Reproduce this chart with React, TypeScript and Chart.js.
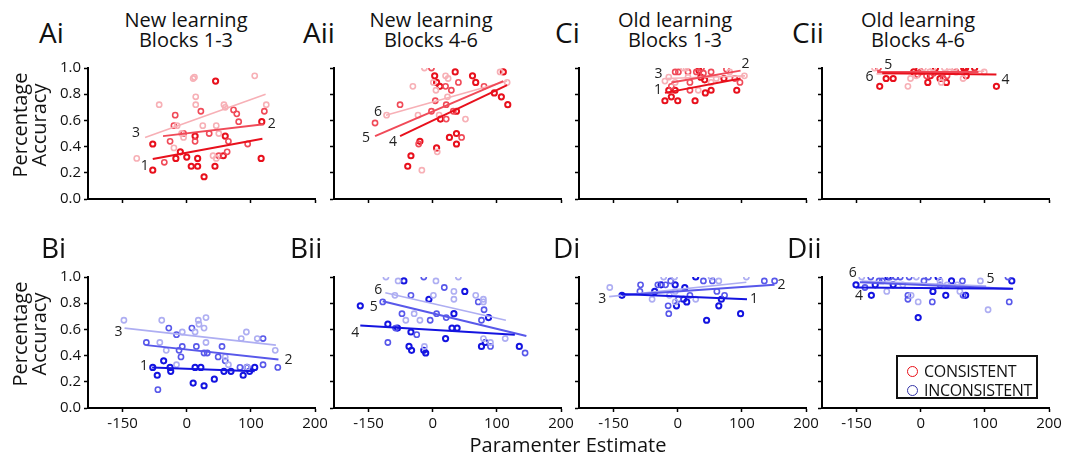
import React, { useEffect, useRef } from 'react';
import { Chart, registerables } from 'chart.js';
Chart.register(...registerables);

const FONT = '"Open Sans", "Noto Sans", sans-serif';

const xTickValues = [-100, 0, 100, 200];
const xTickLabels = ['-150', '0', '100', '200'];
const yTickValues = [0, 0.2, 0.4, 0.6, 0.8, 1.0];
const xMin = -154;
const xMax = 200;

type Pt = [number, number];

// ---------- Ai : New learning, blocks 1-3 (consistent) ----------
const aiSeries1: Pt[] = [[-53,0.42],[-53,0.22],[-17,0.31],[-10,0.36],[0,0.32],[7,0.25],[13,0.48],[17,0.31],[17,0.25],[27,0.17],[44,0.25],[45,0.90],[57,0.33],[60,0.48],[116,0.31],[117,0.59]];
const aiSeries2: Pt[] = [[-35,0.28],[-26,0.44],[-20,0.56],[-18,0.64],[-5,0.50],[13,0.44],[22,0.67],[35,0.50],[50,0.33],[63,0.36],[65,0.44],[73,0.68],[78,0.65],[81,0.59],[95,0.42],[121,0.67]];
const aiSeries3: Pt[] = [[-78,0.31],[-43,0.72],[-20,0.39],[-15,0.56],[-8,0.50],[-5,0.47],[10,0.92],[12,0.93],[14,0.78],[14,0.72],[25,0.56],[41,0.33],[46,0.56],[46,0.31],[50,0.50],[58,0.72],[60,0.70],[106,0.94],[124,0.72]];
const aiLine1: Pt[] = [[-53,0.305],[118,0.46]];
const aiLine2: Pt[] = [[-37,0.48],[120,0.57]];
const aiLine3: Pt[] = [[-65,0.47],[123,0.80]];

// ---------- Aii : New learning, blocks 4-6 (consistent) ----------
const aiiSeries4: Pt[] = [[-39,0.25],[-34,0.33],[-20,0.44],[3,0.94],[6,0.89],[6,0.39],[11,0.86],[12,0.61],[26,0.47],[35,0.97],[37,0.50],[37,0.42],[37,0.67],[62,0.94],[67,0.89],[96,0.81],[107,0.78],[110,0.97],[117,0.72]];
const aiiSeries5: Pt[] = [[-90,0.58],[-51,0.72],[-22,0.42],[-2,1.0],[-2,0.67],[4,0.75],[20,0.86],[21,0.72],[21,0.61],[29,0.83],[32,0.67],[40,0.89],[45,0.47],[80,0.86]];
const aiiSeries6: Pt[] = [[-72,0.64],[-31,0.86],[-23,0.64],[-17,0.22],[-13,1.0],[1,0.89],[5,0.83],[7,0.36],[10,0.64],[20,0.94],[23,0.78],[24,0.92],[51,0.61],[105,0.97],[116,0.89]];
const aiiLine4: Pt[] = [[-51,0.48],[116,0.87]];
const aiiLine5: Pt[] = [[-90,0.48],[110,0.90]];
const aiiLine6: Pt[] = [[-73,0.64],[116,0.90]];

// ---------- Ci : Old learning, blocks 1-3 (consistent) ----------
const ciSeries1: Pt[] = [[-20,0.75],[-10,0.78],[0,0.75],[27,0.75],[-14,0.83],[-4,0.83],[33,0.98],[36,0.93],[42,0.91],[43,0.81],[52,0.83],[72,0.92],[92,0.83]];
const ciSeries2: Pt[] = [[-10,0.86],[-4,0.97],[1,0.97],[16,0.97],[19,0.89],[19,0.83],[29,0.97],[37,1.0],[40,0.96],[52,0.97],[76,0.99],[89,0.92],[97,0.89]];
const ciSeries3: Pt[] = [[-20,0.90],[-14,0.93],[-4,0.89],[9,1.0],[13,1.0],[16,0.93],[32,0.83],[52,0.89],[60,0.92],[81,0.97],[104,0.94]];
const ciLine1: Pt[] = [[-20,0.81],[98,0.92]];
const ciLine2: Pt[] = [[-10,0.89],[98,0.98]];
const ciLine3: Pt[] = [[-19,0.92],[105,0.94]];

// ---------- Cii : Old learning, blocks 4-6 (consistent) ----------
const ciiSeries4: Pt[] = [[-64,0.86],[-54,0.92],[-43,0.92],[-11,0.97],[-3,0.99],[11,0.89],[15,0.94],[23,1.0],[30,0.92],[40,0.89],[67,1.0],[70,1.0],[71,0.94],[84,1.0],[118,0.86]];
const ciiSeries5: Pt[] = [[-66,1.0],[-5,0.95],[0,0.97],[9,0.94],[20,0.96],[35,0.92],[41,0.94],[55,0.97]];
const ciiSeries6: Pt[] = [[-72,1.0],[-20,0.86],[-16,0.92],[-7,0.94],[4,1.0],[14,0.97],[19,1.0],[32,0.89],[37,1.0],[45,0.97],[53,1.0],[66,0.92],[99,0.97]];
const ciiLine4: Pt[] = [[-60,0.96],[118,0.95]];
const ciiLine5: Pt[] = [[-68,0.97],[90,0.97]];
const ciiLine6: Pt[] = [[-69,0.955],[99,0.975]];

// ---------- Bi : New learning, blocks 1-3 (inconsistent) ----------
const biSeries1: Pt[] = [[-53,0.31],[-46,0.25],[-36,0.36],[-26,0.31],[-25,0.28],[10,0.19],[13,0.31],[22,0.31],[27,0.17],[43,0.22],[58,0.28],[69,0.28],[88,0.25],[94,0.31],[98,0.28],[106,0.31]];
const biSeries2: Pt[] = [[-63,0.50],[-45,0.14],[-28,0.61],[-16,0.56],[-12,0.44],[-9,0.39],[-7,0.47],[8,0.61],[15,0.47],[27,0.42],[32,0.42],[49,0.39],[55,0.47],[60,0.36],[83,0.31],[119,0.53],[119,0.33],[142,0.31]];
const biSeries3: Pt[] = [[-98,0.67],[-42,0.50],[-39,0.67],[-32,0.44],[-16,0.33],[-7,0.58],[13,0.58],[18,0.67],[19,0.64],[27,0.61],[30,0.69],[30,0.50],[60,0.39],[65,0.33],[85,0.53],[93,0.58],[94,0.31],[110,0.53],[138,0.44]];
const biLine1: Pt[] = [[-54,0.31],[106,0.28]];
const biLine2: Pt[] = [[-63,0.48],[143,0.37]];
const biLine3: Pt[] = [[-97,0.61],[139,0.48]];

// ---------- Bii : New learning, blocks 4-6 (inconsistent) ----------
const biiSeries4: Pt[] = [[-113,0.78],[-70,0.64],[-55,0.61],[-45,0.97],[-37,0.47],[-34,0.58],[-33,0.44],[-14,0.44],[-11,0.42],[-6,0.83],[20,0.53],[30,0.61],[33,0.72],[38,0.61],[50,0.89],[76,0.47],[82,0.50],[87,0.69],[135,0.47]];
const biiSeries5: Pt[] = [[-78,0.81],[-70,0.50],[-58,0.61],[-48,0.72],[-34,0.86],[-25,0.56],[-14,1.0],[-4,0.67],[6,0.72],[18,0.92],[21,0.69],[71,0.81],[76,0.67],[80,0.75],[90,0.47],[144,0.42]];
const biiSeries6: Pt[] = [[-73,1.0],[-59,0.86],[-54,0.97],[-42,0.67],[-29,0.72],[-20,0.67],[-13,0.47],[1,0.86],[5,0.97],[33,0.89],[33,0.83],[40,1.0],[67,0.86],[79,0.83],[79,0.81],[79,0.53],[90,0.50],[113,0.53]];
const biiLine4: Pt[] = [[-113,0.63],[128,0.56]];
const biiLine5: Pt[] = [[-78,0.815],[146,0.55]];
const biiLine6: Pt[] = [[-74,0.88],[114,0.67]];

// ---------- Di : Old learning, blocks 1-3 (inconsistent) ----------
const diSeries1: Pt[] = [[-87,0.86],[-36,0.89],[-26,0.94],[-4,0.94],[-2,0.78],[9,0.83],[11,0.92],[14,0.81],[28,1.0],[45,0.67],[64,0.78],[68,0.83],[98,0.72]];
const diSeries2: Pt[] = [[-59,0.89],[-58,0.94],[-31,0.94],[-19,0.94],[-15,0.78],[-14,0.72],[-11,0.97],[1,0.83],[19,0.86],[40,0.97],[54,0.97],[61,0.89],[73,0.86],[135,0.97],[151,0.97]];
const diSeries3: Pt[] = [[-106,0.92],[-40,0.83],[-22,1.0],[-13,0.86],[-5,1.0],[-4,0.89],[-4,0.81],[28,0.83],[52,1.0],[64,0.97],[107,1.0]];
const diLine1: Pt[] = [[-89,0.87],[108,0.83]];
const diLine2: Pt[] = [[-87,0.86],[151,0.94]];
const diLine3: Pt[] = [[-107,0.85],[107,0.96]];

// ---------- Dii : Old learning, blocks 4-6 (inconsistent) ----------
const diiSeries4: Pt[] = [[-101,0.94],[-77,0.86],[-71,0.94],[-51,1.0],[-43,0.94],[-4,0.69],[19,0.89],[27,1.0],[39,0.86],[48,0.97],[70,0.86],[142,0.97]];
const diiSeries5: Pt[] = [[-87,0.92],[-78,1.0],[-65,0.97],[-60,0.97],[-48,1.0],[-39,1.0],[-32,1.0],[-20,0.86],[-20,0.83],[-18,1.0],[5,0.97],[12,1.0],[18,0.81],[30,0.94],[65,0.97],[66,0.86],[136,1.0],[138,0.81]];
const diiSeries6: Pt[] = [[-92,1.0],[-53,0.89],[-28,0.94],[-15,0.86],[-7,1.0],[-4,0.81],[30,0.97],[41,0.94],[57,0.94],[61,0.89],[93,0.97],[105,0.75]];
const diiLine4: Pt[] = [[-101,0.92],[144,0.91]];
const diiLine5: Pt[] = [[-95,0.96],[140,0.91]];
const diiLine6: Pt[] = [[-92,0.97],[102,0.93]];

const redShades = ['#e8101c', '#f04a58', '#f7b0b6'];
const blueShades = ['#1414e0', '#5858ea', '#aeaef2'];

const colLeft = [88, 334, 579, 822];
const rowTop = [68, 277];
const plotW = 227;
const plotH = 131;
const padL = 62;
const padT = 12;
const padR = 22;
const padB = 32;

type Tag = { end: number; dx: number; dy: number };
type PanelDef = {
  id: string; row: number; col: number; shades: string[];
  series: Pt[][]; lines: Pt[][]; names: string[]; tags: Tag[];
};

const panels: PanelDef[] = [
  { id: 'Ai', row: 0, col: 0, shades: redShades, series: [aiSeries1, aiSeries2, aiSeries3], lines: [aiLine1, aiLine2, aiLine3], names: ['1', '2', '3'],
    tags: [{ end: 0, dx: -8, dy: 7 }, { end: 1, dx: 8, dy: 0 }, { end: 0, dx: -9, dy: -4 }] },
  { id: 'Aii', row: 0, col: 1, shades: redShades, series: [aiiSeries4, aiiSeries5, aiiSeries6], lines: [aiiLine4, aiiLine5, aiiLine6], names: ['4', '5', '6'],
    tags: [{ end: 0, dx: -7, dy: 6 }, { end: 0, dx: -9, dy: 2 }, { end: 0, dx: -8, dy: -3 }] },
  { id: 'Ci', row: 0, col: 2, shades: redShades, series: [ciSeries1, ciSeries2, ciSeries3], lines: [ciLine1, ciLine2, ciLine3], names: ['1', '2', '3'],
    tags: [{ end: 0, dx: -7, dy: -3 }, { end: 1, dx: 5, dy: -7 }, { end: 0, dx: -7, dy: -4 }] },
  { id: 'Cii', row: 0, col: 3, shades: redShades, series: [ciiSeries4, ciiSeries5, ciiSeries6], lines: [ciiLine4, ciiLine5, ciiLine6], names: ['4', '5', '6'],
    tags: [{ end: 1, dx: 9, dy: 5 }, { end: 0, dx: 11, dy: -7 }, { end: 0, dx: -7, dy: 3 }] },
  { id: 'Bi', row: 1, col: 0, shades: blueShades, series: [biSeries1, biSeries2, biSeries3], lines: [biLine1, biLine2, biLine3], names: ['1', '2', '3'],
    tags: [{ end: 0, dx: -8, dy: -1 }, { end: 1, dx: 10, dy: 0 }, { end: 0, dx: -6, dy: 4 }] },
  { id: 'Bii', row: 1, col: 1, shades: blueShades, series: [biiSeries4, biiSeries5, biiSeries6], lines: [biiLine4, biiLine5, biiLine6], names: ['4', '5', '6'],
    tags: [{ end: 0, dx: -5, dy: 8 }, { end: 0, dx: -9, dy: 6 }, { end: 0, dx: -7, dy: -3 }] },
  { id: 'Di', row: 1, col: 2, shades: blueShades, series: [diSeries1, diSeries2, diSeries3], lines: [diLine1, diLine2, diLine3], names: ['1', '2', '3'],
    tags: [{ end: 1, dx: 7, dy: 0 }, { end: 1, dx: 7, dy: 0 }, { end: 0, dx: -7, dy: 2 }] },
  { id: 'Dii', row: 1, col: 3, shades: blueShades, series: [diiSeries4, diiSeries5, diiSeries6], lines: [diiLine4, diiLine5, diiLine6], names: ['4', '5', '6'],
    tags: [{ end: 0, dx: 3, dy: 9 }, { end: 1, dx: -20, dy: -10 }, { end: 0, dx: -9, dy: -8 }] },
];

function Panel({ p }: { p: PanelDef }) {
  const ref = useRef<HTMLCanvasElement | null>(null);
  useEffect(() => {
    if (!ref.current) return;
    const datasets: any[] = [];
    p.lines.forEach((l, i) => {
      datasets.push({
        data: l.map(([x, y]) => ({ x, y })),
        showLine: true,
        pointRadius: 0,
        borderColor: p.shades[i],
        borderWidth: i === 2 ? 1.6 : 2,
        order: i,
      });
    });
    p.series.forEach((s, i) => {
      datasets.push({
        data: s.map(([x, y]) => ({ x, y })),
        showLine: false,
        pointRadius: 2.6,
        pointBorderWidth: i === 0 ? 2 : 1.6,
        pointBorderColor: p.shades[i],
        pointBackgroundColor: 'rgba(255,255,255,0)',
        order: 10 - i,
      });
    });
    const tagPlugin = {
      id: 'tags' + p.id,
      afterDatasetsDraw(chart: any) {
        const ctx = chart.ctx;
        const xs = chart.scales.x;
        const ys = chart.scales.y;
        ctx.save();
        ctx.font = `14px ${FONT}`;
        ctx.fillStyle = '#222';
        ctx.textAlign = 'center';
        ctx.textBaseline = 'middle';
        p.tags.forEach((t, i) => {
          const pt = p.lines[i][t.end];
          ctx.fillText(p.names[i], xs.getPixelForValue(pt[0]) + t.dx, ys.getPixelForValue(pt[1]) + t.dy);
        });
        ctx.restore();
      },
    };
    const chart = new Chart(ref.current, {
      type: 'scatter',
      data: { datasets },
      options: {
        animation: false,
        responsive: false,
        events: [],
        layout: { padding: { top: padT, right: padR, left: 0, bottom: 0 } },
        plugins: { legend: { display: false }, tooltip: { enabled: false } },
        scales: {
          x: {
            type: 'linear', min: xMin, max: xMax,
            afterBuildTicks: (axis: any) => { axis.ticks = xTickValues.map((v) => ({ value: v })); },
            afterFit: (axis: any) => { axis.height = padB; },
            ticks: {
              display: p.row === 1,
              autoSkip: false, maxRotation: 0, padding: 3,
              color: '#111',
              font: { family: FONT, size: 15 },
              callback: (v: any) => { const k = xTickValues.indexOf(Number(v)); return k >= 0 ? xTickLabels[k] : ''; },
            },
            grid: { drawOnChartArea: false, drawTicks: true, tickLength: 4, tickColor: '#000', tickWidth: 1.5, color: '#000' },
            border: { display: true, color: '#000', width: 2 },
          },
          y: {
            type: 'linear', min: 0, max: 1,
            afterBuildTicks: (axis: any) => { axis.ticks = yTickValues.map((v) => ({ value: v })); },
            afterFit: (axis: any) => { axis.width = padL; },
            ticks: {
              display: p.col === 0,
              padding: 3,
              color: '#111',
              font: { family: FONT, size: 15 },
              callback: (v: any) => Number(v).toFixed(1),
            },
            grid: { drawOnChartArea: false, drawTicks: true, tickLength: 4, tickColor: '#000', tickWidth: 1.5, color: '#000' },
            border: { display: true, color: '#000', width: 2 },
          },
        },
      } as any,
      plugins: [tagPlugin],
    });
    return () => chart.destroy();
  }, [p]);
  const w = padL + plotW + padR;
  const h = padT + plotH + padB;
  return (
    <canvas
      ref={ref}
      width={w}
      height={h}
      style={{ position: 'absolute', left: colLeft[p.col] - padL, top: rowTop[p.row] - padT, width: w, height: h }}
    />
  );
}

const panelLetters = [
  { text: 'Ai', left: 39, top: 19 }, { text: 'Aii', left: 303, top: 19 },
  { text: 'Ci', left: 555, top: 19 }, { text: 'Cii', left: 792, top: 19 },
  { text: 'Bi', left: 41, top: 234 }, { text: 'Bii', left: 290, top: 234 },
  { text: 'Di', left: 553, top: 234 }, { text: 'Dii', left: 787, top: 234 },
];

const columnTitles = [
  { lines: ['New learning', 'Blocks 1-3'], cx: 186 },
  { lines: ['New learning', 'Blocks 4-6'], cx: 431 },
  { lines: ['Old learning', 'Blocks 1-3'], cx: 675 },
  { lines: ['Old learning', 'Blocks 4-6'], cx: 918 },
];

const yAxisTitle = ['Percentage', 'Accuracy'];
const xAxisTitle = 'Paramenter Estimate';
const legendItems = [
  { label: 'CONSISTENT', color: '#e81018' },
  { label: 'INCONSISTENT', color: '#3535a8' },
];

export default function App() {
  return (
    <div style={{ position: 'absolute', left: 0, top: 0, width: 1065, height: 458, background: '#fff', fontFamily: FONT, color: '#111', overflow: 'hidden' }}>
      {panels.map((p) => <Panel key={p.id} p={p} />)}
      {panelLetters.map((l) => (
        <div key={l.text} style={{ position: 'absolute', left: l.left, top: l.top, fontSize: 28, lineHeight: '27px', whiteSpace: 'nowrap' }}>{l.text}</div>
      ))}
      {columnTitles.map((t, i) => (
        <div key={i} style={{ position: 'absolute', left: t.cx - 100, top: 10, width: 200, textAlign: 'center', fontSize: 20, lineHeight: '20px' }}>
          {t.lines.map((s) => <div key={s}>{s}</div>)}
        </div>
      ))}
      {[124.5, 333.5].map((cy, i) => (
        <div key={i} style={{ position: 'absolute', left: 29 - 80, top: cy - 19, width: 160, height: 38, textAlign: 'center', fontSize: 20, lineHeight: '19px', transform: 'rotate(-90deg)', transformOrigin: '50% 50%' }}>
          {yAxisTitle.map((s) => <div key={s}>{s}</div>)}
        </div>
      ))}
      <div style={{ position: 'absolute', left: 568 - 150, top: 435, width: 300, textAlign: 'center', fontSize: 20, lineHeight: '20px' }}>{xAxisTitle}</div>
      <div style={{ position: 'absolute', left: 896, top: 355, width: 142, height: 44, boxSizing: 'border-box', border: '2px solid #111', background: '#fff' }}>
        {legendItems.map((it, i) => (
          <div key={it.label} style={{ position: 'absolute', left: 0, top: 5 + i * 19, height: 19, display: 'flex', alignItems: 'center', whiteSpace: 'nowrap' }}>
            <span style={{ display: 'inline-block', width: 11, height: 11, boxSizing: 'border-box', border: `1.5px solid ${it.color}`, borderRadius: '50%', marginLeft: 9, marginRight: 6 }} />
            <span style={{ fontSize: 16, lineHeight: '19px', letterSpacing: -0.3 }}>{it.label}</span>
          </div>
        ))}
      </div>
    </div>
  );
}
